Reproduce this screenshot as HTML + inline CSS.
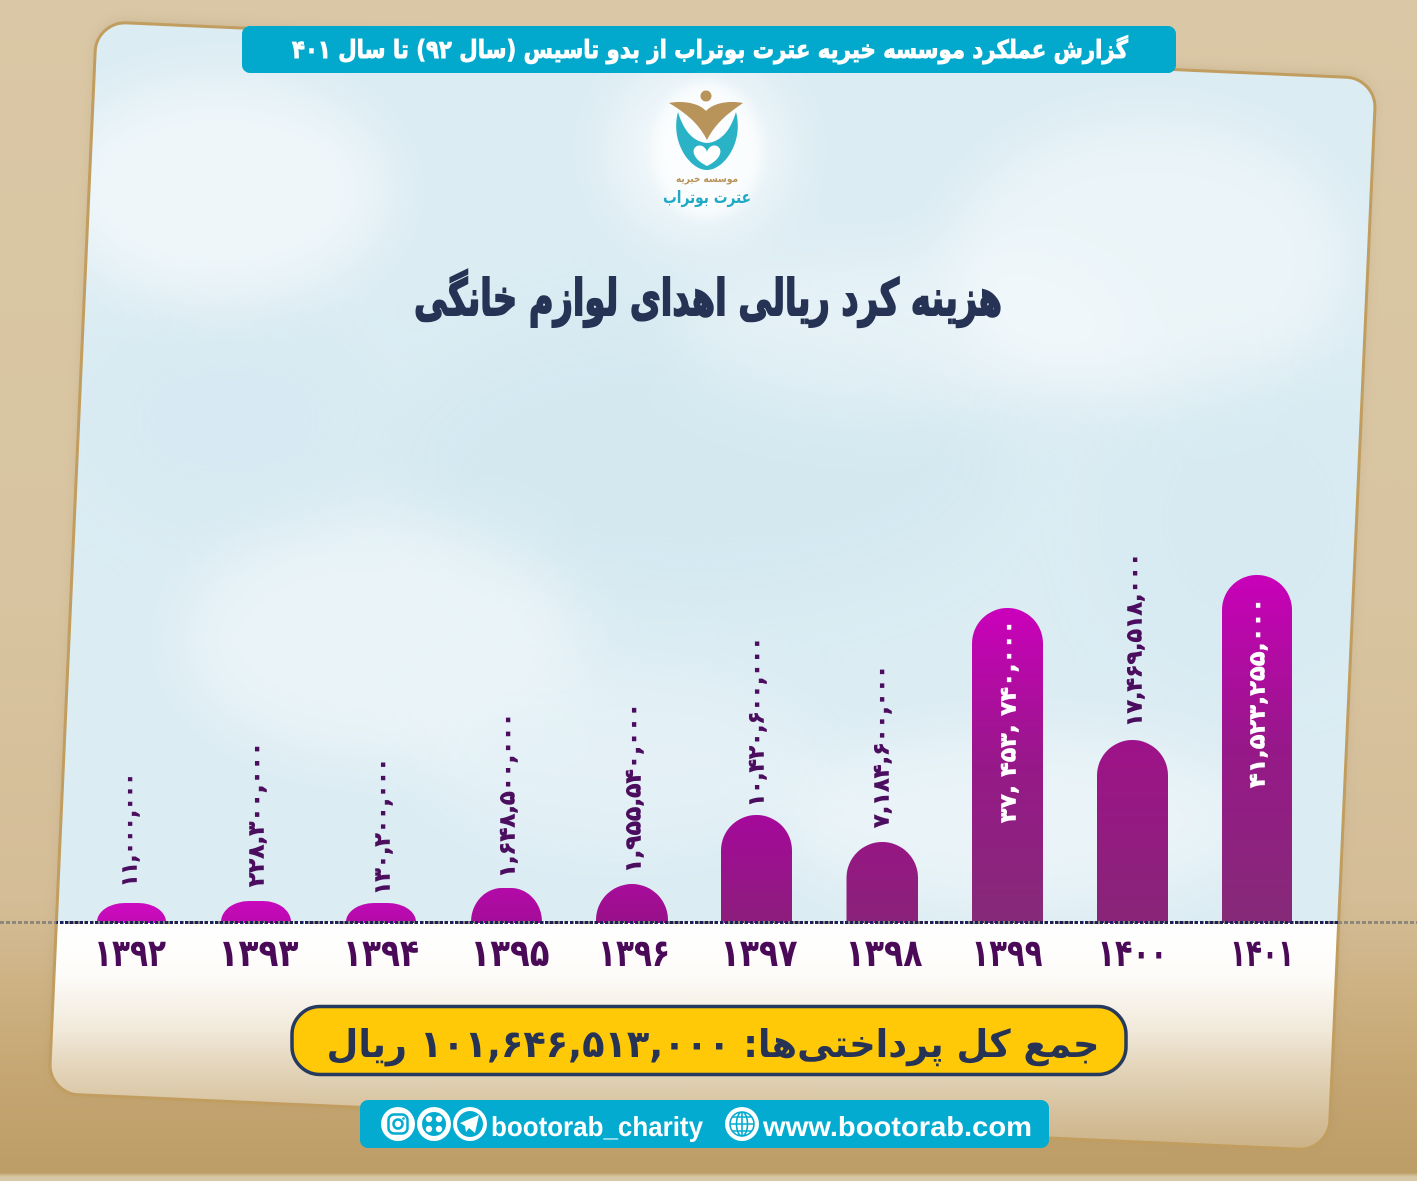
<!DOCTYPE html>
<html>
<head>
<meta charset="utf-8">
<style>
html,body{margin:0;padding:0;width:1417px;height:1181px;overflow:hidden;background:#d6c29e;}
svg{display:block;}
.fa{font-family:"DejaVu Sans","Liberation Sans",sans-serif;font-weight:bold;}
.en{font-family:"Liberation Sans","DejaVu Sans",sans-serif;font-weight:bold;}
</style>
</head>
<body>
<svg width="1417" height="1181" viewBox="0 0 1417 1181" xmlns="http://www.w3.org/2000/svg">
<defs>
  <linearGradient id="bg" gradientUnits="userSpaceOnUse" x1="0" y1="0" x2="0" y2="1181">
    <stop offset="0" stop-color="#dac7a5"/>
    <stop offset="0.5" stop-color="#d8c4a0"/>
    <stop offset="0.76" stop-color="#d4bd97"/>
    <stop offset="0.86" stop-color="#cbae7d"/>
    <stop offset="0.93" stop-color="#c3a470"/>
    <stop offset="0.993" stop-color="#bd9d66"/>
    <stop offset="0.996" stop-color="#d5c4a0"/>
    <stop offset="1" stop-color="#d9c8a6"/>
  </linearGradient>
  <clipPath id="card">
    <rect x="72" y="49.5" width="1281" height="1073" rx="30" transform="rotate(2.55 712.5 586)"/>
  </clipPath>
  <linearGradient id="fade" gradientUnits="userSpaceOnUse" x1="0" y1="922" x2="0" y2="1160">
    <stop offset="0" stop-color="#ffffff"/>
    <stop offset="0.22" stop-color="#fdfcf9"/>
    <stop offset="0.45" stop-color="#f1e9da"/>
    <stop offset="0.62" stop-color="#e3d4b9"/>
    <stop offset="0.8" stop-color="#d6c19d"/>
    <stop offset="1" stop-color="#c9ae80"/>
  </linearGradient>
  <filter id="blur30" x="-50%" y="-50%" width="200%" height="200%"><feGaussianBlur stdDeviation="30"/></filter>
  <filter id="blur6" x="-50%" y="-50%" width="200%" height="200%"><feGaussianBlur stdDeviation="6"/></filter>

  <linearGradient id="g1392" x1="0" y1="0" x2="0" y2="1"><stop offset="0" stop-color="#cc0cc0"/><stop offset="1" stop-color="#c209b5"/></linearGradient>
  <linearGradient id="g1393" x1="0" y1="0" x2="0" y2="1"><stop offset="0" stop-color="#c70abd"/><stop offset="1" stop-color="#bb0aae"/></linearGradient>
  <linearGradient id="g1394" x1="0" y1="0" x2="0" y2="1"><stop offset="0" stop-color="#bf0ab6"/><stop offset="1" stop-color="#b20aa6"/></linearGradient>
  <linearGradient id="g1395" x1="0" y1="0" x2="0" y2="1"><stop offset="0" stop-color="#b40aa8"/><stop offset="1" stop-color="#a40c98"/></linearGradient>
  <linearGradient id="g1396" x1="0" y1="0" x2="0" y2="1"><stop offset="0" stop-color="#a80c9c"/><stop offset="1" stop-color="#981088"/></linearGradient>
  <linearGradient id="g1397" x1="0" y1="0" x2="0" y2="1"><stop offset="0" stop-color="#a5089a"/><stop offset="1" stop-color="#8c1e7c"/></linearGradient>
  <linearGradient id="g1398" x1="0" y1="0" x2="0" y2="1"><stop offset="0" stop-color="#961684"/><stop offset="1" stop-color="#8a2279"/></linearGradient>
  <linearGradient id="g1399" x1="0" y1="0" x2="0" y2="1"><stop offset="0" stop-color="#cb00bb"/><stop offset="0.5" stop-color="#961888"/><stop offset="1" stop-color="#862a78"/></linearGradient>
  <linearGradient id="g1400" x1="0" y1="0" x2="0" y2="1"><stop offset="0" stop-color="#9e1289"/><stop offset="1" stop-color="#882578"/></linearGradient>
  <linearGradient id="g1401" x1="0" y1="0" x2="0" y2="1"><stop offset="0" stop-color="#c900b9"/><stop offset="0.5" stop-color="#961888"/><stop offset="1" stop-color="#862a78"/></linearGradient>
</defs>

<!-- background -->
<rect x="0" y="0" width="1417" height="1181" fill="url(#bg)"/>

<!-- card shadow -->
<rect x="72" y="47" width="1281" height="1073" rx="30" transform="rotate(2.55 712.5 586)" fill="#8a7550" opacity="0.18" filter="url(#blur6)"/>

<!-- card content -->
<g clip-path="url(#card)">
  <rect x="0" y="0" width="1417" height="1181" fill="#dbecf3"/>
  <g filter="url(#blur30)">
    <ellipse cx="220" cy="190" rx="170" ry="110" fill="#ffffff" opacity="0.55"/>
    <ellipse cx="1150" cy="260" rx="200" ry="140" fill="#ffffff" opacity="0.45"/>
    <ellipse cx="700" cy="460" rx="300" ry="140" fill="#cde4ed" opacity="0.45"/>
    <ellipse cx="380" cy="640" rx="200" ry="120" fill="#ffffff" opacity="0.4"/>
    <ellipse cx="1020" cy="820" rx="240" ry="90" fill="#ffffff" opacity="0.4"/>
    <ellipse cx="230" cy="420" rx="150" ry="110" fill="#d3e7ef" opacity="0.4"/>
    <ellipse cx="1250" cy="520" rx="150" ry="160" fill="#d3e8f0" opacity="0.4"/>
    <ellipse cx="620" cy="760" rx="200" ry="90" fill="#e9f4f8" opacity="0.6"/>
    <ellipse cx="700" cy="150" rx="90" ry="90" fill="#ffffff" opacity="0.6"/>
    <ellipse cx="900" cy="330" rx="220" ry="80" fill="#ffffff" opacity="0.3"/>
  </g>
  <rect x="0" y="922" width="1417" height="259" fill="url(#fade)"/>
</g>
<!-- card border -->
<rect x="72" y="49.5" width="1281" height="1073" rx="30" transform="rotate(2.55 712.5 586)" fill="none" stroke="#c19d60" stroke-width="3"/>

<!-- banner -->
<rect x="242" y="26" width="934" height="47" rx="8" fill="#02a9cc"/>
<text class="fa" x="710" y="58" font-size="25" fill="#ffffff" stroke="#ffffff" stroke-width="0.9" text-anchor="middle" direction="rtl" textLength="836" lengthAdjust="spacingAndGlyphs">گزارش عملکرد موسسه خیریه عترت بوتراب از بدو تاسیس (سال ۹۲) تا سال ۴۰۱</text>

<!-- logo -->
<ellipse cx="707" cy="150" rx="55" ry="68" fill="#ffffff" opacity="0.7" filter="url(#blur6)"/>
<circle cx="706" cy="96" r="5.5" fill="#b8935a"/>
<path d="M669 103 C685 100 700 104 706 111 C712 104 727 100 743 103 C730 112 716 122 707 140 C698 122 684 112 669 103 Z" fill="#b8935a"/>
<path d="M678 112 C670 142 690 170 707 170 C724 170 744 142 736 112 C730 132 720 142 707 143 C694 142 684 132 678 112 Z" fill="#2ab3c7"/>
<path d="M707 166 C694 160 690 150 697 146 C702 144 706 148 707 152 C708 148 712 144 717 146 C724 150 720 160 707 166 Z" fill="#ffffff"/>
<text class="fa" x="707" y="182" font-size="10" fill="#b8935a" text-anchor="middle" direction="rtl" textLength="62" lengthAdjust="spacingAndGlyphs">موسسه خیریه</text>
<text class="fa" x="707" y="203" font-size="17" fill="#1fa9c4" text-anchor="middle" direction="rtl" textLength="88" lengthAdjust="spacingAndGlyphs">عترت بوتراب</text>

<!-- title -->
<text class="fa" x="708" y="315" font-size="50" fill="#263354" stroke="#263354" stroke-width="2" text-anchor="middle" direction="rtl" textLength="588" lengthAdjust="spacingAndGlyphs">هزینه کرد ریالی اهدای لوازم خانگی</text>

<!-- bars -->
<path d="M97 923 V922 A27.6 19 0 0 1 124.6 903 H138.4 A27.6 19 0 0 1 166 922 V923 Z" fill="url(#g1392)"/>
<path d="M221 923 V922 A28 21 0 0 1 249 901 H263 A28 21 0 0 1 291 922 V923 Z" fill="url(#g1393)"/>
<path d="M346 923 V922 A28 19 0 0 1 374 903 H388 A28 19 0 0 1 416 922 V923 Z" fill="url(#g1394)"/>
<path d="M471 923 V922 A31 34 0 0 1 502 888 H511 A31 34 0 0 1 542 922 V923 Z" fill="url(#g1395)"/>
<path d="M596 923 V920 A36 36 0 0 1 668 920 V923 Z" fill="url(#g1396)"/>
<path d="M721 923 V850.5 A35.5 35.5 0 0 1 792 850.5 V923 Z" fill="url(#g1397)"/>
<path d="M846.5 923 V877.75 A35.75 35.75 0 0 1 918 877.75 V923 Z" fill="url(#g1398)"/>
<path d="M972 923 V643.5 A35.5 35.5 0 0 1 1043 643.5 V923 Z" fill="url(#g1399)"/>
<path d="M1097 923 V775.5 A35.5 35.5 0 0 1 1168 775.5 V923 Z" fill="url(#g1400)"/>
<path d="M1222 923 V610 A35 35 0 0 1 1292 610 V923 Z" fill="url(#g1401)"/>

<!-- value labels (vertical) -->
<g class="fa" font-size="22" fill="#4b0d5e" stroke="#4b0d5e" stroke-width="0.6">
  <text transform="translate(136.5 887) rotate(-90)" textLength="114" lengthAdjust="spacingAndGlyphs">۱۱,۰۰۰,۰۰۰</text>
  <text transform="translate(263.5 887) rotate(-90)" textLength="145" lengthAdjust="spacingAndGlyphs">۲۲۸,۳۰۰,۰۰۰</text>
  <text transform="translate(389.5 895) rotate(-90)" textLength="137" lengthAdjust="spacingAndGlyphs">۱۳۰,۲۰۰,۰۰۰</text>
  <text transform="translate(514.5 878) rotate(-90)" textLength="165" lengthAdjust="spacingAndGlyphs">۱,۶۴۸,۵۰۰,۰۰۰</text>
  <text transform="translate(640.5 873) rotate(-90)" textLength="170" lengthAdjust="spacingAndGlyphs">۱,۹۵۵,۵۴۰,۰۰۰</text>
  <text transform="translate(763.5 807) rotate(-90)" textLength="170" lengthAdjust="spacingAndGlyphs">۱۰,۴۲۰,۶۰۰,۰۰۰</text>
  <text transform="translate(888.5 828) rotate(-90)" textLength="163" lengthAdjust="spacingAndGlyphs">۷,۱۸۴,۶۰۰,۰۰۰</text>
  <text transform="translate(1141.5 727) rotate(-90)" textLength="174" lengthAdjust="spacingAndGlyphs">۱۷,۴۶۹,۵۱۸,۰۰۰</text>
</g>
<g class="fa" font-size="22" fill="#ffffff" stroke="#ffffff" stroke-width="0.6">
  <text transform="translate(1015.5 823) rotate(-90)" textLength="203" lengthAdjust="spacingAndGlyphs">۳۷, ۴۵۳, ۷۴۰,۰۰۰</text>
  <text transform="translate(1264.5 788) rotate(-90)" textLength="190" lengthAdjust="spacingAndGlyphs">۴۱,۵۲۳,۲۵۵,۰۰۰</text>
</g>

<!-- baseline -->
<line x1="0" y1="922.5" x2="1417" y2="922.5" stroke="#8f877a" stroke-width="3" stroke-dasharray="4 2"/>
<line x1="0" y1="922.5" x2="1417" y2="922.5" stroke="#1b1f5c" stroke-width="3" stroke-dasharray="3 2" clip-path="url(#card)"/>

<!-- year labels -->
<g class="fa" font-size="38" fill="#4a0a58" text-anchor="middle">
  <text x="130" y="966" textLength="72" lengthAdjust="spacingAndGlyphs">۱۳۹۲</text>
  <text x="258.5" y="966" textLength="80" lengthAdjust="spacingAndGlyphs">۱۳۹۳</text>
  <text x="381" y="966" textLength="76" lengthAdjust="spacingAndGlyphs">۱۳۹۴</text>
  <text x="510" y="966" textLength="79" lengthAdjust="spacingAndGlyphs">۱۳۹۵</text>
  <text x="634" y="966" textLength="72" lengthAdjust="spacingAndGlyphs">۱۳۹۶</text>
  <text x="759" y="966" textLength="77" lengthAdjust="spacingAndGlyphs">۱۳۹۷</text>
  <text x="884" y="966" textLength="77" lengthAdjust="spacingAndGlyphs">۱۳۹۸</text>
  <text x="1007" y="966" textLength="71" lengthAdjust="spacingAndGlyphs">۱۳۹۹</text>
  <text x="1132.5" y="966" textLength="70" lengthAdjust="spacingAndGlyphs">۱۴۰۰</text>
  <text x="1262" y="966" textLength="64" lengthAdjust="spacingAndGlyphs">۱۴۰۱</text>
</g>

<!-- total box -->
<rect x="292" y="1006.5" width="834" height="68" rx="28" fill="#ffc907" stroke="#263a5e" stroke-width="3.5"/>
<text class="fa" x="713" y="1057" font-size="38" fill="#263354" text-anchor="middle" direction="rtl" textLength="773" lengthAdjust="spacingAndGlyphs">جمع کل پرداختی‌ها: ۱۰۱,۶۴۶,۵۱۳,۰۰۰  ریال</text>

<!-- footer -->
<rect x="360" y="1100" width="689" height="48" rx="8" fill="#02abcf"/>
<!-- instagram -->
<circle cx="398" cy="1124" r="17" fill="#ffffff"/>
<rect x="388.5" y="1114.5" width="19" height="19" rx="5.5" fill="none" stroke="#02abcf" stroke-width="2.5"/>
<circle cx="398" cy="1124" r="4.5" fill="none" stroke="#02abcf" stroke-width="2.5"/>
<circle cx="403.5" cy="1118.5" r="1.3" fill="#02abcf"/>
<!-- aparat-like -->
<circle cx="434" cy="1124" r="17" fill="#ffffff"/>
<circle cx="434" cy="1124" r="12" fill="#02abcf"/>
<circle cx="429" cy="1119" r="3.2" fill="#ffffff"/>
<circle cx="439" cy="1119" r="3.2" fill="#ffffff"/>
<circle cx="429" cy="1129" r="3.2" fill="#ffffff"/>
<circle cx="439" cy="1129" r="3.2" fill="#ffffff"/>
<!-- telegram -->
<circle cx="470" cy="1124" r="17" fill="#ffffff"/>
<circle cx="470" cy="1124" r="13" fill="#02abcf"/>
<path d="M460 1123 L479 1115 L475 1133 L469 1128 L466 1132 L465 1126 Z" fill="#ffffff"/>
<text class="en" x="491" y="1136" font-size="28" fill="#ffffff" textLength="212" lengthAdjust="spacingAndGlyphs">bootorab_charity</text>
<!-- globe -->
<circle cx="742" cy="1124" r="17" fill="#ffffff"/>
<g fill="none" stroke="#02abcf" stroke-width="1.6">
  <circle cx="742" cy="1124" r="12"/>
  <ellipse cx="742" cy="1124" rx="5.5" ry="12"/>
  <line x1="742" y1="1112" x2="742" y2="1136"/>
  <line x1="730" y1="1124" x2="754" y2="1124"/>
  <line x1="732" y1="1117" x2="752" y2="1117"/>
  <line x1="732" y1="1131" x2="752" y2="1131"/>
</g>
<text class="en" x="763" y="1136" font-size="28" fill="#ffffff" textLength="269" lengthAdjust="spacingAndGlyphs">www.bootorab.com</text>
</svg>
</body>
</html>
